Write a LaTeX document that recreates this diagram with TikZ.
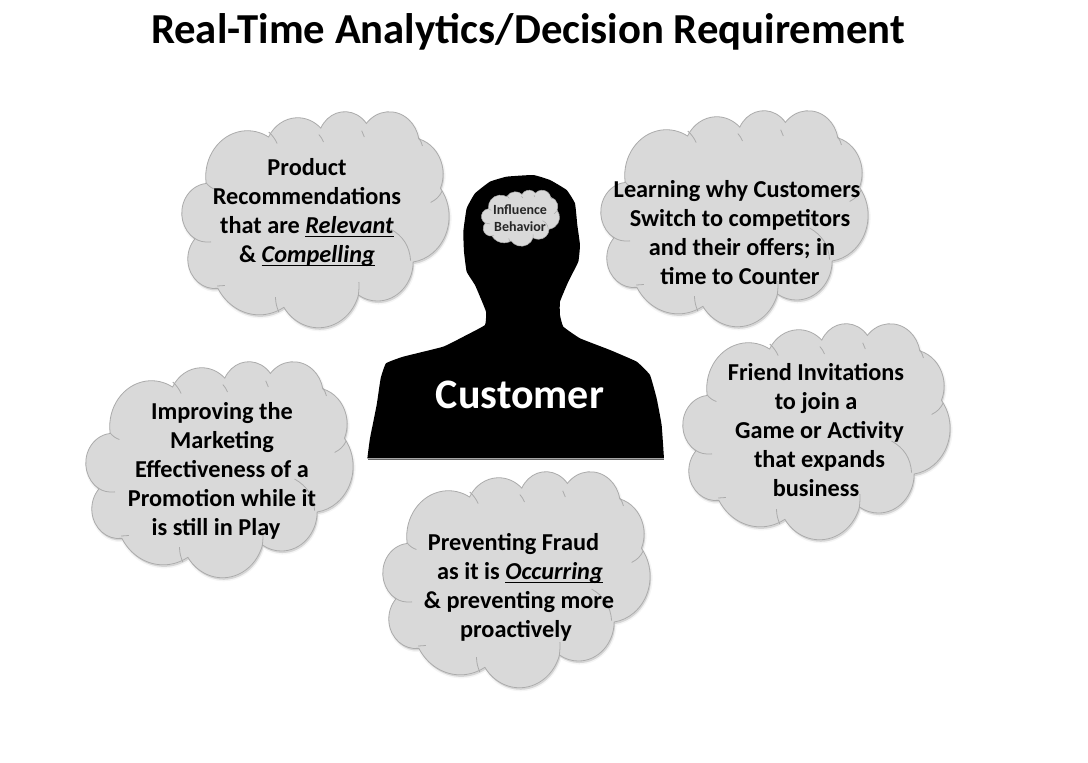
\documentclass[tikz,border=0pt]{standalone}
\usepackage{fontspec}
\setmainfont{Carlito}
\newsavebox\ulbox
\newcommand\myul[1]{\sbox\ulbox{#1}\rlap{\rule[-3.5pt]{\wd\ulbox}{1.2pt}}\usebox\ulbox}
\definecolor{cloudfill}{HTML}{D9D9D9}
\definecolor{cloudline}{HTML}{ABABAB}
\newcommand\tang[3]{atan2((#1)*sin(#3),(#2)*cos(#3))}
\newcommand\lobe[4]{arc[x radius={(#1)/43.2*\cw*1pt},y radius={(#2)/43.2*\ch*1pt},
  start angle={-(\tang{#1}{#2}{#3})},
  delta angle={-mod((\tang{#1}{#2}{(#3)+(#4)})-(\tang{#1}{#2}{#3})+720,360)}]}
\newcommand\cp[2]{({\cx+(#1)/43.2*\cw},{-\cy-(#2)/43.2*\ch})}
\newcommand\stub[5]{({\cx+(#1)/43.2*\cw},{-\cy-(#2)/43.2*\ch}) to[bend left=#5] ({\cx+(#3)/43.2*\cw},{-\cy-(#4)/43.2*\ch})}
\newcommand\cloudoutline{\cp{3.9}{14.37}
  \lobe{6.753}{9.19}{-190.487}{123.781}
  \lobe{5.333}{7.267}{-144.102}{89.945}
  \lobe{4.365}{5.945}{-145.808}{99.723}
  \lobe{4.857}{6.595}{-130.986}{117.242}
  \lobe{5.333}{7.273}{-78.709}{109.027}
  \lobe{6.775}{9.22}{-46.267}{130.269}
  \lobe{5.785}{7.867}{0.625}{114.033}
  \lobe{6.752}{9.215}{22.452}{115.173}
  \lobe{7.72}{10.543}{66.243}{75.711}
  \lobe{4.36}{5.918}{-274.942}{146.736}
  \lobe{4.345}{5.945}{-246.829}{152.519} -- cycle}
\newcommand\cloudstubs{
  \stub{4.693}{26.177}{1.9}{25.4}{18}
  \stub{6.928}{34.899}{5.7}{35.0}{8}
  \stub{3.9}{14.37}{5.4}{15.7}{-15}
  \stub{14.04}{4.2}{15.4}{6.5}{10}
  \stub{22.141}{4.72}{22.9}{6.2}{10}
  \stub{29.078}{3.952}{29.5}{5.2}{10}
  \stub{38.324}{5.426}{38.9}{7}{10}
  \stub{42.12}{15.96}{40.23}{18.287}{18}
  \stub{33.75}{23.607}{36.99}{29.925}{28}
  \stub{28.62}{34.247}{28.512}{37.0}{5}
  \stub{15.66}{40.2}{15.12}{37.24}{10}
}
\newcommand\mkcloud[5][0.8pt]{%
  \def\cx{#2}\def\cy{#3}\def\cw{#4}\def\ch{#5}%
  \path[fill=black,opacity=.05,xshift=1pt,yshift=-2pt,draw=black,line width=3pt,draw opacity=.04] \cloudoutline;
  \path[fill=black,opacity=.08,xshift=1pt,yshift=-2pt] \cloudoutline;
  \path[fill=cloudfill,draw=cloudline,line width=#1] \cloudoutline;
  \path[draw=cloudline,line width=#1] \cloudstubs;
}
\tikzset{
  body/.style={font=\fontsize{24.3}{29}\selectfont\bfseries,align=center,text=black,inner sep=0pt},
  titletext/.style={font=\fontsize{42.7}{48}\selectfont\bfseries,text=black,inner sep=0pt},
  custtext/.style={font=\fontsize{42}{48}\selectfont\bfseries,text=white,inner sep=0pt},
  smalltext/.style={font=\fontsize{14}{17}\selectfont\bfseries,align=center,text=black!85,inner sep=0pt}
}
\begin{document}
\begin{tikzpicture}[x=1pt,y=1pt]
\useasboundingbox (0,0) rectangle (1088,-763);
\fill[white] (0,0) rectangle (1088,-763);
\node[titletext] (title) at (528,-31.5) {Real-Time Analytics/Decision Requirement};
\mkcloud{182}{111}{267}{216}
\mkcloud{601}{110}{267}{216}
\mkcloud{683}{323}{267}{216}
\mkcloud{86}{361}{267}{216}
\mkcloud{383}{471}{267}{216}
\begin{scope}[shift={(360,-165)},x=0.3333pt,y=-0.3333pt]
\fill[black] plot[smooth,tension=.2] coordinates {(22,880)(30,820)(50,720)(62,640)(78,595)(130,575)(250,545)(320,510)(375,480)(378,440)(360,395)(345,360)(320,320)(312,260)(310,200)(320,130)(345,85)(390,50)(440,35)(520,30)(570,45)(620,75)(645,115)(652,180)(660,240)(655,290)(625,350)(600,410)(600,450)(610,485)(660,520)(750,555)(830,590)(870,630)(890,700)(905,780)(912,880)} -- cycle;
\end{scope}
\draw[black!60,line width=.8pt] (368,-459) -- (664,-459);
\mkcloud[0.5pt]{481.5}{190}{78}{56}
\node[smalltext] (infl) at (520,-218) {Influence\\Behavior};
\node[custtext] (cust) at (520,-395) {Customer};
\node[body] (c1) at (307,-213) {Product\\Recommendations\\that are \myul{\textit{Relevant}}\\\& \myul{\textit{Compelling}}};
\node[body] (c2) at (737,-233) {Learning why Customers\\\hspace*{6pt}Switch to competitors\\\hspace*{10pt}and their offers; in\\\hspace*{6pt}time to Counter};
\node[body] (c3) at (816,-430) {Friend Invitations\\to join a\\\hspace*{7pt}Game or Activity\\\hspace*{7pt}that expands\\business};
\node[body] (c4) at (222,-471) {Improving the\\Marketing\hspace*{5pt}\\Effectiveness of a\hspace*{5pt}\\Promotion while it\\is still in Play\hspace*{12pt}};
\node[body] (c5) at (519,-587.5) {Preventing Fraud\hspace*{11pt}\\\hspace*{2pt}as it is \myul{\textit{Occurring}}\\\& preventing more\\proactively\hspace*{6pt}};
\end{tikzpicture}
\end{document}
